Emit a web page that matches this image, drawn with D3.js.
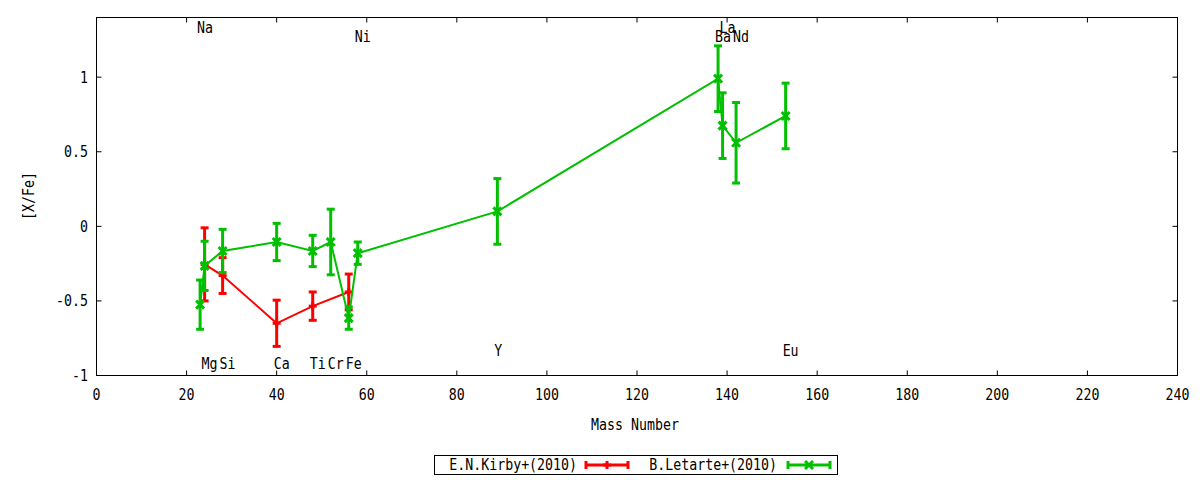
<!DOCTYPE html>
<html>
<head>
<meta charset="utf-8">
<script src="https://cdn.jsdelivr.net/npm/d3@7"></script>
<style>
  body { margin: 0; background: #fff; }
  text { font-family: "DejaVu Sans Mono", monospace; font-size: 15.5px; fill: #000; }
</style>
</head>
<body>
<div id="chart"></div>
<script>
// [X/Fe] vs mass number, two literature samples

// E.N.Kirby+(2010)
const kirbyMass = [24, 28, 40, 48, 56];
const kirbyVal  = [-0.255, -0.33, -0.65, -0.535, -0.44];
const kirbyErr  = [0.245, 0.12, 0.155, 0.095, 0.12];

// B.Letarte+(2010)
const letarteMass = [23, 24, 28, 40, 48, 52, 56, 58, 89, 138, 139, 142, 153];
const letarteVal  = [-0.525, -0.265, -0.165, -0.105, -0.165, -0.105, -0.615, -0.18, 0.10, 0.99, 0.675, 0.56, 0.74];
const letarteErr  = [0.165, 0.165, 0.145, 0.125, 0.105, 0.22, 0.075, 0.075, 0.22, 0.22, 0.22, 0.27, 0.22];

// element labels (text, x, y) in data coords
const labelText = ["Na", "Mg", "Si", "Ca", "Ti", "Cr", "Fe", "Ni", "Y", "Ba", "La", "Nd", "Eu"];
const labelX    = [23, 24, 28, 40, 48, 52, 56, 58, 89, 138, 139, 142, 153];
const labelY    = [1.33, -0.92, -0.92, -0.92, -0.92, -0.92, -0.92, 1.27, -0.83, 1.27, 1.335, 1.27, -0.83];

const xTicks = d3.range(0, 241, 20);
const yTicks = [-1, -0.5, 0, 0.5, 1];

const seriesNames = ["E.N.Kirby+(2010)", "B.Letarte+(2010)"];
const colors = ["#ff0000", "#00c000"];

// the gnuplot font is narrow, squeeze glyphs horizontally
function condense(sel) {
    sel.each(function () {
        const len = this.getComputedTextLength();
        if (len > 0) {
            d3.select(this).attr('textLength', len * 0.855).attr('lengthAdjust', 'spacingAndGlyphs');
        }
    });
}

class ErrorChart {
    constructor(parentElement) {
        this.parentElement = parentElement;
        this.initVis();
    }

    initVis() {
        let vis = this;
        vis.width = 1200;
        vis.height = 480;
        vis.left = 96.5; vis.right = 1177.5; vis.top = 17.5; vis.bottom = 375.5;

        vis.svg = d3.select('#' + vis.parentElement)
            .append('svg')
            .attr('width', vis.width)
            .attr('height', vis.height);

        vis.x = d3.scaleLinear().domain([0, 240]).range([vis.left, vis.right]);
        vis.y = d3.scaleLinear().domain([-1, 1.4]).range([vis.bottom, vis.top]);

        vis.drawAxes();
        vis.drawSeries(kirbyMass, kirbyVal, kirbyErr, colors[0], "plus");
        vis.drawSeries(letarteMass, letarteVal, letarteErr, colors[1], "cross");
        vis.drawLabels();
        vis.drawLegend();

        vis.svg.selectAll('text').call(condense);
    }

    drawAxes() {
        let vis = this;
        const g = vis.svg.append('g');

        // inward ticks on all four sides
        const tick = 5;
        xTicks.forEach(t => {
            const px = vis.x(t);
            g.append('line').attr('x1', px).attr('x2', px).attr('y1', vis.bottom).attr('y2', vis.bottom - tick).attr('stroke', '#000');
            g.append('line').attr('x1', px).attr('x2', px).attr('y1', vis.top).attr('y2', vis.top + tick).attr('stroke', '#000');
            g.append('text').attr('x', px).attr('y', 400).attr('text-anchor', 'middle').text(t);
        });
        yTicks.forEach(t => {
            const py = vis.y(t);
            g.append('line').attr('x1', vis.left).attr('x2', vis.left + tick).attr('y1', py).attr('y2', py).attr('stroke', '#000');
            g.append('line').attr('x1', vis.right).attr('x2', vis.right - tick).attr('y1', py).attr('y2', py).attr('stroke', '#000');
            g.append('text').attr('x', 88).attr('y', py).attr('dy', '0.35em').attr('text-anchor', 'end').text(t);
        });

        g.append('rect')
            .attr('x', vis.left).attr('y', vis.top)
            .attr('width', vis.right - vis.left).attr('height', vis.bottom - vis.top)
            .attr('fill', 'none').attr('stroke', '#000');

        g.append('text').attr('x', 635).attr('y', 430).attr('text-anchor', 'middle').text('Mass Number');
        g.append('text')
            .attr('transform', 'translate(34,196) rotate(-90)')
            .attr('text-anchor', 'middle').text('[X/Fe]');
    }

    drawMarker(g, cx, cy, color, kind) {
        const s = 4;
        if (kind === "plus") {
            g.append('line').attr('x1', cx - s).attr('x2', cx + s).attr('y1', cy).attr('y2', cy).attr('stroke', color).attr('stroke-width', 3);
            g.append('line').attr('x1', cx).attr('x2', cx).attr('y1', cy - s).attr('y2', cy + s).attr('stroke', color).attr('stroke-width', 3);
        } else {
            g.append('line').attr('x1', cx - s).attr('x2', cx + s).attr('y1', cy - s).attr('y2', cy + s).attr('stroke', color).attr('stroke-width', 3);
            g.append('line').attr('x1', cx - s).attr('x2', cx + s).attr('y1', cy + s).attr('y2', cy - s).attr('stroke', color).attr('stroke-width', 3);
        }
    }

    drawSeries(mass, val, err, color, kind) {
        let vis = this;
        const g = vis.svg.append('g');
        const pts = mass.map((m, i) => ({x: m, y: val[i], e: err[i]}));

        const line = d3.line().x(d => vis.x(d.x)).y(d => vis.y(d.y));
        g.append('path').datum(pts)
            .attr('d', line)
            .attr('fill', 'none')
            .attr('stroke', color)
            .attr('stroke-width', 2);

        pts.forEach(d => {
            const cx = vis.x(d.x);
            const y1 = vis.y(d.y + d.e), y2 = vis.y(d.y - d.e);
            g.append('line').attr('x1', cx).attr('x2', cx).attr('y1', y1).attr('y2', y2).attr('stroke', color).attr('stroke-width', 3);
            [y1, y2].forEach(yy => {
                g.append('line').attr('x1', cx - 4).attr('x2', cx + 4).attr('y1', yy).attr('y2', yy).attr('stroke', color).attr('stroke-width', 3);
            });
            vis.drawMarker(g, cx, vis.y(d.y), color, kind);
        });
    }

    drawLabels() {
        let vis = this;
        vis.svg.append('g').selectAll('text')
            .data(labelText)
            .join('text')
            .attr('x', (d, i) => vis.x(labelX[i]) - 3)
            .attr('y', (d, i) => vis.y(labelY[i]))
            .attr('dy', '0.35em')
            .text(d => d);
    }

    drawLegend() {
        let vis = this;
        const g = vis.svg.append('g');
        g.append('rect').attr('x', 434.5).attr('y', 455.5).attr('width', 403).attr('height', 19)
            .attr('fill', 'none').attr('stroke', '#000');

        const entries = [
            {name: seriesNames[0], color: colors[0], kind: "plus", textEnd: 577, x0: 586, x1: 628},
            {name: seriesNames[1], color: colors[1], kind: "cross", textEnd: 777, x0: 788, x1: 830}
        ];
        const ly = 465;
        entries.forEach(e => {
            g.append('text').attr('x', e.textEnd).attr('y', ly).attr('dy', '0.35em').attr('text-anchor', 'end').text(e.name);
            g.append('line').attr('x1', e.x0).attr('x2', e.x1).attr('y1', ly).attr('y2', ly).attr('stroke', e.color).attr('stroke-width', 3);
            [e.x0, e.x1].forEach(xx => {
                g.append('line').attr('x1', xx).attr('x2', xx).attr('y1', ly - 4).attr('y2', ly + 4).attr('stroke', e.color).attr('stroke-width', 3);
            });
            vis.drawMarker(g, (e.x0 + e.x1) / 2, ly, e.color, e.kind);
        });
    }
}

new ErrorChart('chart');
</script>
</body>
</html>
